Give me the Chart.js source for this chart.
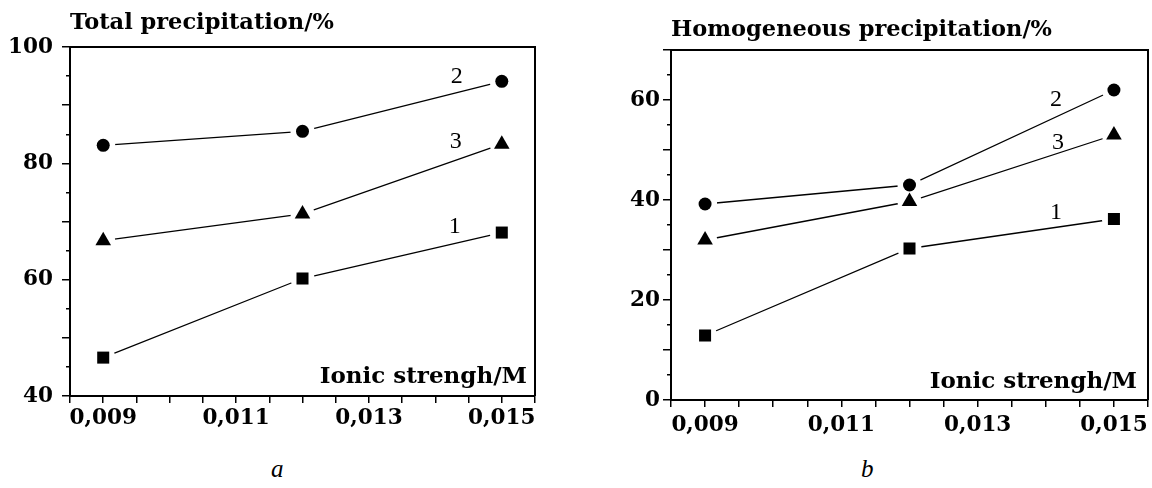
<!DOCTYPE html>
<html>
<head>
<meta charset="utf-8">
<title>Precipitation vs ionic strength</title>
<script src="https://cdn.jsdelivr.net/npm/chart.js@4.4.1/dist/chart.umd.min.js"></script>
<style>
  html, body { margin: 0; padding: 0; background: #fff; }
  #page { position: relative; width: 1152px; height: 488px; overflow: hidden; }
  .panel { position: absolute; top: 0; }
  .caption { position: absolute; top: 455px; font: italic 25px "Liberation Serif", serif; color: #000; }
</style>
</head>
<body>
<div id="page">
  <div class="panel" style="left:0"><canvas id="totalChart" width="560" height="440"></canvas></div>
  <div class="panel" style="left:580px"><canvas id="homoChart" width="580" height="440"></canvas></div>
  <div class="caption" style="left:271px">a</div>
  <div class="caption" style="left:861px">b</div>
</div>
<script>
// ==========================================
// DATA
// ==========================================
const ionicStrength = [0.009, 0.012, 0.015];

// a - total precipitation, %
const totalCurve1 = [46.6, 60.2, 68.1];
const totalCurve2 = [83.1, 85.5, 94.1];
const totalCurve3 = [66.7, 71.3, 83.3];

// b - homogeneous precipitation, %
const homoCurve1 = [12.9, 30.3, 36.2];
const homoCurve2 = [39.2, 43.0, 62.0];
const homoCurve3 = [32.0, 39.7, 53.0];

const curveNames = ['1', '2', '3'];
const xTickValues = [0.009, 0.011, 0.013, 0.015];
const xTickLabels = ['0,009', '0,011', '0,013', '0,015'];
const totalYTicks = [40, 60, 80, 100];
const homoYTicks = [0, 20, 40, 60];

const SERIF = '"DejaVu Serif", serif';
const markerStyles = [
    { pointStyle: 'rect', radius: 8.5 },
    { pointStyle: 'circle', radius: 6.5 },
    { pointStyle: 'triangle', radius: 9 }
];

// box on top/right, curve numbers and the axis caption inside the plot
const panelText = {
    id: 'panelText',
    afterDraw(chart, args, opts) {
        const { ctx, chartArea } = chart;
        ctx.save();
        ctx.strokeStyle = '#000';
        ctx.lineWidth = 2;
        ctx.beginPath();
        ctx.moveTo(chartArea.left, chartArea.top);
        ctx.lineTo(chartArea.right, chartArea.top);
        ctx.lineTo(chartArea.right, chartArea.bottom);
        ctx.stroke();

        // curve numbers next to the last point of each curve
        ctx.fillStyle = '#000';
        ctx.font = '24px "Liberation Serif", serif';
        ctx.textAlign = 'center';
        ctx.textBaseline = 'middle';
        opts.curves.forEach((c, i) => {
            const last = c.data[c.data.length - 1];
            const px = chart.scales.x.getPixelForValue(last.x) + opts.offsets[i][0];
            const py = chart.scales.y.getPixelForValue(last.y) + opts.offsets[i][1];
            ctx.fillText(curveNames[i], px, py);
        });

        ctx.font = 'bold 23px ' + SERIF;
        ctx.textAlign = 'right';
        ctx.textBaseline = 'alphabetic';
        ctx.fillText(opts.axisLabel, chartArea.right - opts.axisLabelPad[0], chartArea.bottom - opts.axisLabelPad[1]);
        ctx.restore();
    }
};

function buildDatasets(curves) {
    const lines = [], halos = [], marks = [];
    curves.forEach((values, i) => {
        const pts = ionicStrength.map((x, j) => ({ x: x, y: values[j] }));
        lines.push({ data: pts, showLine: true, borderColor: '#000', borderWidth: 1.3, pointRadius: 0, order: 3 });
        // white disc so the line stops short of the marker, like the original
        halos.push({ data: pts, showLine: false, pointRadius: 12, pointBackgroundColor: '#fff', pointBorderWidth: 0, order: 2 });
        marks.push({
            data: pts, showLine: false, order: 1,
            pointStyle: markerStyles[i].pointStyle, pointRadius: markerStyles[i].radius,
            pointBackgroundColor: '#000', pointBorderColor: '#000', pointBorderWidth: 0
        });
    });
    return lines.concat(halos, marks);
}

function makePanel(canvasId, p) {
    const lineSets = p.curves.map(values => ({ data: ionicStrength.map((x, j) => ({ x: x, y: values[j] })) }));
    return new Chart(document.getElementById(canvasId), {
        type: 'scatter',
        data: { datasets: buildDatasets(p.curves) },
        options: {
            responsive: false,
            animation: false,
            layout: { padding: { left: 0, right: p.padRight, top: 0, bottom: 0 } },
            plugins: {
                legend: { display: false },
                tooltip: { enabled: false },
                title: {
                    display: true, text: p.title, align: 'start', fullSize: false, color: '#000',
                    font: { family: SERIF, weight: 'bold', size: 22.5, lineHeight: 1.2 },
                    padding: { top: p.titlePad[0], bottom: p.titlePad[1] }
                },
                panelText: { curves: lineSets, offsets: p.labelOffsets, axisLabel: 'Ionic strengh/M', axisLabelPad: p.axisLabelPad }
            },
            scales: {
                x: {
                    type: 'linear', min: 0.0085, max: 0.0155,
                    afterFit: s => { s.height = p.xAxisHeight; s.paddingLeft = 0; s.paddingRight = 0; },
                    border: { display: true, color: '#000', width: 2 },
                    grid: { drawOnChartArea: false, color: '#000', lineWidth: 1.5, tickLength: 7 },
                    ticks: {
                        stepSize: 0.0005, autoSkip: false, maxRotation: 0, padding: p.xTickPad, color: '#000',
                        font: { family: SERIF, weight: 'bold', size: 21.5 },
                        callback: v => {
                            const k = xTickValues.findIndex(t => Math.abs(t - v) < 1e-7);
                            return k >= 0 ? xTickLabels[k] : '';
                        }
                    }
                },
                y: {
                    min: p.yMin, max: p.yMax,
                    afterFit: s => { s.width = p.yAxisWidth; },
                    border: { display: true, color: '#000', width: 2 },
                    grid: {
                        drawOnChartArea: false, color: '#000', lineWidth: 1.5, tickLength: 8,
                        // short ticks at the odd fives
                        tickBorderDash: c => (c.tick && c.tick.value % 10 !== 0) ? [0, 4, 20, 0] : []
                    },
                    ticks: {
                        stepSize: 5, autoSkip: false, padding: p.yTickPad, color: '#000',
                        font: { family: SERIF, weight: 'bold', size: 21.5 },
                        callback: v => p.yLabels.includes(v) ? String(v) : ''
                    }
                }
            }
        },
        plugins: [panelText]
    });
}

document.addEventListener('DOMContentLoaded', () => {
    makePanel('totalChart', {
        title: 'Total precipitation/%',
        curves: [totalCurve1, totalCurve2, totalCurve3],
        yMin: 40, yMax: 100, yLabels: totalYTicks,
        yAxisWidth: 70, xAxisHeight: 44, padRight: 25,
        titlePad: [9.5, 10.5], xTickPad: 3, yTickPad: 9,
        labelOffsets: [[-47, -6], [-45, -5], [-46, -2]],
        axisLabelPad: [8, 13]
    });
    makePanel('homoChart', {
        title: 'Homogeneous precipitation/%',
        curves: [homoCurve1, homoCurve2, homoCurve3],
        yMin: 0, yMax: 70, yLabels: homoYTicks,
        yAxisWidth: 91, xAxisHeight: 40, padRight: 0,
        titlePad: [16.5, 6.5], xTickPad: 6, yTickPad: 3,
        labelOffsets: [[-58, -6], [-58, 10], [-56, 8]],
        axisLabelPad: [11, 12]
    });
});
</script>
</body>
</html>
